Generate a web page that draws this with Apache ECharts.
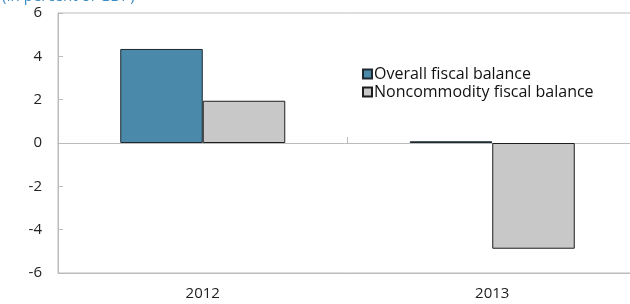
<!DOCTYPE html>
<html><head><meta charset="utf-8">
<script src="https://cdn.jsdelivr.net/npm/echarts@6/dist/echarts.min.js"></script>
<style>html,body{margin:0;padding:0;background:#fff}#c{width:630px;height:304px}</style>
</head><body><div id="c"></div>
<script>
const categories = ['2012', '2013'];
const overallFiscal = [4.34, 0.08];
const noncommodityFiscal = [1.95, -4.88];
const yTicks = [-6, -4, -2, 0, 2, 4, 6];
const titleText = '(In percent of GDP)';
const seriesNames = ['Overall fiscal balance', 'Noncommodity fiscal balance'];

const chart = echarts.init(document.getElementById('c'));
const font = 'Open Sans';
chart.setOption({
  animation: false,
  title: { text: titleText, left: -3, top: -16, textStyle: { color: '#3a8dc4', fontSize: 15, fontWeight: 'normal', fontFamily: font } },
  legend: {
    orient: 'vertical', left: 357, top: 61, itemWidth: 9, itemHeight: 9, itemGap: 2,
    textStyle: { fontSize: 16, color: '#111', fontFamily: font, padding: [0, 0, 0, -3] },
    data: seriesNames.map(n => ({ name: n, icon: 'rect' }))
  },
  grid: { left: 58, width: 579, top: 13, bottom: 31, show: true, borderColor: '#bbb', borderWidth: 1,
    containLabel: false, outerBoundsMode: 'none' },
  xAxis: [
    { type: 'category', data: categories, position: 'bottom', axisLine: { onZero: true, lineStyle: { color: '#bbb' } },
      axisTick: { show: true, inside: true, length: 6, lineStyle: { color: '#bbb' } }, axisLabel: { show: false } },
    { type: 'category', data: categories, position: 'bottom', axisLine: { onZero: false, lineStyle: { color: '#bbb' } },
      axisTick: { show: false }, axisLabel: { color: '#222', fontSize: 15, fontFamily: font, margin: 13 } }
  ],
  yAxis: {
    type: 'value', min: -6, max: 6, interval: 2,
    axisLine: { show: true, lineStyle: { color: '#bbb' } },
    axisTick: { show: true, inside: true, length: 5, lineStyle: { color: '#bbb' } },
    splitLine: { show: false },
    axisLabel: { color: '#222', fontSize: 15, fontFamily: font, margin: 16, formatter: v => yTicks.includes(v) ? String(v) : '' }
  },
  series: [
    { name: seriesNames[0], type: 'bar', data: overallFiscal, barGap: '0%', barCategoryGap: '43%',
      itemStyle: { color: '#4a89aa', borderColor: '#1e2a30', borderWidth: 1 } },
    { name: seriesNames[1], type: 'bar', data: noncommodityFiscal,
      itemStyle: { color: '#c8c8c8', borderColor: '#1e1e1e', borderWidth: 1 } }
  ]
});
</script></body></html>
